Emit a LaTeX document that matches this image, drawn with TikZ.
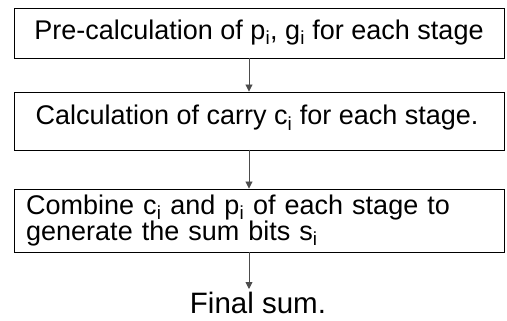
\documentclass[tikz,border=0pt]{standalone}
\usepackage{fontspec}
\setmainfont{Liberation Sans}
\usetikzlibrary{arrows.meta}
\begin{document}
\begin{tikzpicture}[x=1pt,y=-1pt,
  box/.style={draw=black,line width=0.9pt,rectangle,minimum width=490pt,inner sep=0pt,font=\fontsize{27}{31}\selectfont},
  txt/.style={font=\fontsize{27}{31}\selectfont,inner sep=0pt},
  conn/.style={draw=black!70,line width=0.9pt,-{Triangle[length=7pt,width=7pt]}}]
\useasboundingbox (0,0) rectangle (507,321);
\node[box,minimum height=50pt,text height=19pt,text depth=6pt] (b1) at (259,33) {Pre-calculation of p\textsubscript{i}, g\textsubscript{i} for each stage};
\node[box,minimum height=58pt] (b2) at (259,121) {};
\node[txt,anchor=base] (t2) at (257,125) {Calculation of carry c\textsubscript{i} for each stage.};
\node[box,minimum height=63pt] (b3) at (259,220.5) {};
\node[txt,anchor=north west,text width=480pt,align=left,font=\fontsize{27}{26}\selectfont] (t3) at (26,195) {Combine c\textsubscript{i} and p\textsubscript{i} of each stage to\\generate the sum bits s\textsubscript{i}};
\node[txt,anchor=base,font=\fontsize{29.5}{34}\selectfont] (fs) at (258,313) {Final sum.};
\draw[conn] (249,58) -- (b2.north -| 249,0);
\draw[conn] (249,150) -- (b3.north -| 249,0);
\draw[conn] (249,252) -- (249,289);
\end{tikzpicture}
\end{document}
